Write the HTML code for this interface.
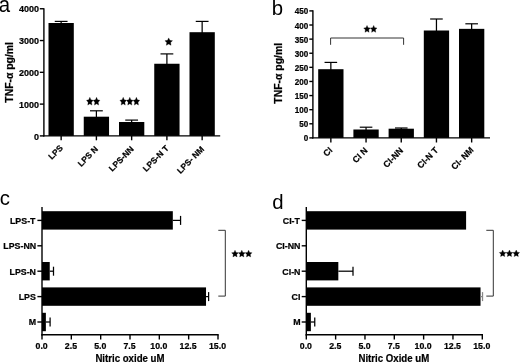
<!DOCTYPE html>
<html><head><meta charset="utf-8"><style>
html,body{margin:0;padding:0;background:#fff;}
body{width:520px;height:363px;overflow:hidden;}
svg{display:block;font-family:"Liberation Sans", sans-serif;filter:blur(0.35px);}
</style></head><body>
<svg width="520" height="363" viewBox="0 0 520 363">
<rect width="520" height="363" fill="#fff"/>
<line x1="43.90" y1="8.15" x2="43.90" y2="136.60" stroke="#000" stroke-width="1.4"/>
<line x1="39.80" y1="135.90" x2="43.90" y2="135.90" stroke="#000" stroke-width="1.4"/>
<text transform="translate(33.95,139.62) scale(1.000,1.080)" font-size="9" font-weight="bold" fill="#000" stroke="#000" stroke-width="0.21">0</text>
<line x1="39.80" y1="104.11" x2="43.90" y2="104.11" stroke="#000" stroke-width="1.4"/>
<text transform="translate(18.95,107.84) scale(1.000,1.080)" font-size="9" font-weight="bold" fill="#000" stroke="#000" stroke-width="0.21">1000</text>
<line x1="39.80" y1="72.33" x2="43.90" y2="72.33" stroke="#000" stroke-width="1.4"/>
<text transform="translate(18.95,76.05) scale(1.000,1.080)" font-size="9" font-weight="bold" fill="#000" stroke="#000" stroke-width="0.21">2000</text>
<line x1="39.80" y1="40.54" x2="43.90" y2="40.54" stroke="#000" stroke-width="1.4"/>
<text transform="translate(18.95,44.26) scale(1.000,1.080)" font-size="9" font-weight="bold" fill="#000" stroke="#000" stroke-width="0.21">3000</text>
<line x1="39.80" y1="8.75" x2="43.90" y2="8.75" stroke="#000" stroke-width="1.4"/>
<text transform="translate(18.95,12.47) scale(1.000,1.080)" font-size="9" font-weight="bold" fill="#000" stroke="#000" stroke-width="0.21">4000</text>
<line x1="43.20" y1="135.90" x2="220.20" y2="135.90" stroke="#000" stroke-width="1.4"/>
<rect x="48.50" y="23.00" width="25.30" height="112.90" fill="#000"/>
<line x1="61.15" y1="21.40" x2="61.15" y2="24.00" stroke="#000" stroke-width="1.25"/>
<line x1="54.75" y1="21.40" x2="67.55" y2="21.40" stroke="#000" stroke-width="1.2"/>
<line x1="61.15" y1="135.90" x2="61.15" y2="140.30" stroke="#000" stroke-width="1.4"/>
<rect x="83.75" y="116.70" width="25.30" height="19.20" fill="#000"/>
<line x1="96.40" y1="110.80" x2="96.40" y2="117.70" stroke="#000" stroke-width="1.25"/>
<line x1="90.00" y1="110.80" x2="102.80" y2="110.80" stroke="#000" stroke-width="1.2"/>
<line x1="96.40" y1="135.90" x2="96.40" y2="140.30" stroke="#000" stroke-width="1.4"/>
<rect x="119.00" y="122.00" width="25.30" height="13.90" fill="#000"/>
<line x1="131.65" y1="120.10" x2="131.65" y2="123.00" stroke="#000" stroke-width="1.25"/>
<line x1="125.25" y1="120.10" x2="138.05" y2="120.10" stroke="#000" stroke-width="1.2"/>
<line x1="131.65" y1="135.90" x2="131.65" y2="140.30" stroke="#000" stroke-width="1.4"/>
<rect x="154.25" y="63.75" width="25.30" height="72.15" fill="#000"/>
<line x1="166.90" y1="53.90" x2="166.90" y2="64.75" stroke="#000" stroke-width="1.25"/>
<line x1="160.50" y1="53.90" x2="173.30" y2="53.90" stroke="#000" stroke-width="1.2"/>
<line x1="166.90" y1="135.90" x2="166.90" y2="140.30" stroke="#000" stroke-width="1.4"/>
<rect x="189.50" y="32.20" width="25.30" height="103.70" fill="#000"/>
<line x1="202.15" y1="21.40" x2="202.15" y2="33.20" stroke="#000" stroke-width="1.25"/>
<line x1="195.75" y1="21.40" x2="208.55" y2="21.40" stroke="#000" stroke-width="1.2"/>
<line x1="202.15" y1="135.90" x2="202.15" y2="140.30" stroke="#000" stroke-width="1.4"/>
<text transform="translate(51.85,160.04) scale(0.930,0.940) rotate(-45)" font-size="9" font-weight="bold" fill="#000" stroke="#000" stroke-width="0.24">LPS</text>
<text transform="translate(81.21,167.21) scale(0.930,0.940) rotate(-45)" font-size="9" font-weight="bold" fill="#000" stroke="#000" stroke-width="0.24">LPS N</text>
<text transform="translate(112.35,171.91) scale(0.930,0.940) rotate(-45)" font-size="9" font-weight="bold" fill="#000" stroke="#000" stroke-width="0.24">LPS-NN</text>
<text transform="translate(146.33,172.17) scale(0.930,0.940) rotate(-45)" font-size="9" font-weight="bold" fill="#000" stroke="#000" stroke-width="0.24">LPS-N T</text>
<text transform="translate(180.42,174.24) scale(0.930,0.940) rotate(-45)" font-size="9" font-weight="bold" fill="#000" stroke="#000" stroke-width="0.24">LPS- NM</text>
<text transform="translate(13.35,102.68) scale(1.030,1.040) rotate(-90)" font-size="10" font-weight="bold" fill="#000" stroke="#000" stroke-width="0.21">TNF-α pg/ml</text>
<text transform="translate(-1.37,11.84) scale(0.980,1.020)" font-size="20.8" font-weight="normal" fill="#000">a</text>
<polygon points="89.85,97.30 90.89,99.87 93.20,100.28 91.53,102.28 91.92,105.10 89.85,103.77 87.78,105.10 88.17,102.28 86.50,100.28 88.81,99.87" fill="#000" stroke="#000" stroke-width="0.3" stroke-linejoin="round"/>
<polygon points="96.55,97.30 97.59,99.87 99.90,100.28 98.23,102.28 98.62,105.10 96.55,103.77 94.48,105.10 94.87,102.28 93.20,100.28 95.51,99.87" fill="#000" stroke="#000" stroke-width="0.3" stroke-linejoin="round"/>
<polygon points="123.20,97.30 124.22,99.87 126.50,100.28 124.85,102.28 125.24,105.10 123.20,103.77 121.16,105.10 121.55,102.28 119.90,100.28 122.18,99.87" fill="#000" stroke="#000" stroke-width="0.3" stroke-linejoin="round"/>
<polygon points="129.80,97.30 130.82,99.87 133.10,100.28 131.45,102.28 131.84,105.10 129.80,103.77 127.76,105.10 128.15,102.28 126.50,100.28 128.78,99.87" fill="#000" stroke="#000" stroke-width="0.3" stroke-linejoin="round"/>
<polygon points="136.40,97.30 137.42,99.87 139.70,100.28 138.05,102.28 138.44,105.10 136.40,103.77 134.36,105.10 134.75,102.28 133.10,100.28 135.38,99.87" fill="#000" stroke="#000" stroke-width="0.3" stroke-linejoin="round"/>
<polygon points="168.70,37.90 169.87,40.34 172.50,40.73 170.60,42.62 171.05,45.30 168.70,44.04 166.35,45.30 166.80,42.62 164.90,40.73 167.53,40.34" fill="#000" stroke="#000" stroke-width="0.3" stroke-linejoin="round"/>
<line x1="312.90" y1="10.30" x2="312.90" y2="138.60" stroke="#000" stroke-width="1.4"/>
<line x1="309.30" y1="137.90" x2="312.90" y2="137.90" stroke="#000" stroke-width="1.4"/>
<text transform="translate(303.73,141.44) scale(0.900,1.100)" font-size="9" font-weight="bold" fill="#000" stroke="#000" stroke-width="0.22">0</text>
<line x1="309.30" y1="123.79" x2="312.90" y2="123.79" stroke="#000" stroke-width="1.4"/>
<text transform="translate(299.23,127.33) scale(0.900,1.100)" font-size="9" font-weight="bold" fill="#000" stroke="#000" stroke-width="0.22">50</text>
<line x1="309.30" y1="109.68" x2="312.90" y2="109.68" stroke="#000" stroke-width="1.4"/>
<text transform="translate(294.73,113.22) scale(0.900,1.100)" font-size="9" font-weight="bold" fill="#000" stroke="#000" stroke-width="0.22">100</text>
<line x1="309.30" y1="95.57" x2="312.90" y2="95.57" stroke="#000" stroke-width="1.4"/>
<text transform="translate(294.73,99.10) scale(0.900,1.100)" font-size="9" font-weight="bold" fill="#000" stroke="#000" stroke-width="0.22">150</text>
<line x1="309.30" y1="81.46" x2="312.90" y2="81.46" stroke="#000" stroke-width="1.4"/>
<text transform="translate(294.73,84.99) scale(0.900,1.100)" font-size="9" font-weight="bold" fill="#000" stroke="#000" stroke-width="0.22">200</text>
<line x1="309.30" y1="67.34" x2="312.90" y2="67.34" stroke="#000" stroke-width="1.4"/>
<text transform="translate(294.73,70.88) scale(0.900,1.100)" font-size="9" font-weight="bold" fill="#000" stroke="#000" stroke-width="0.22">250</text>
<line x1="309.30" y1="53.23" x2="312.90" y2="53.23" stroke="#000" stroke-width="1.4"/>
<text transform="translate(294.73,56.77) scale(0.900,1.100)" font-size="9" font-weight="bold" fill="#000" stroke="#000" stroke-width="0.22">300</text>
<line x1="309.30" y1="39.12" x2="312.90" y2="39.12" stroke="#000" stroke-width="1.4"/>
<text transform="translate(294.73,42.66) scale(0.900,1.100)" font-size="9" font-weight="bold" fill="#000" stroke="#000" stroke-width="0.22">350</text>
<line x1="309.30" y1="25.01" x2="312.90" y2="25.01" stroke="#000" stroke-width="1.4"/>
<text transform="translate(294.73,28.55) scale(0.900,1.100)" font-size="9" font-weight="bold" fill="#000" stroke="#000" stroke-width="0.22">400</text>
<line x1="309.30" y1="10.90" x2="312.90" y2="10.90" stroke="#000" stroke-width="1.4"/>
<text transform="translate(294.73,14.44) scale(0.900,1.100)" font-size="9" font-weight="bold" fill="#000" stroke="#000" stroke-width="0.22">450</text>
<line x1="312.20" y1="137.90" x2="490.00" y2="137.90" stroke="#000" stroke-width="1.4"/>
<rect x="318.20" y="69.20" width="25.30" height="68.70" fill="#000"/>
<line x1="330.85" y1="62.40" x2="330.85" y2="70.20" stroke="#000" stroke-width="1.25"/>
<line x1="324.55" y1="62.40" x2="337.15" y2="62.40" stroke="#000" stroke-width="1.2"/>
<line x1="330.85" y1="137.90" x2="330.85" y2="142.50" stroke="#000" stroke-width="1.4"/>
<rect x="353.40" y="129.50" width="25.30" height="8.40" fill="#000"/>
<line x1="366.05" y1="127.20" x2="366.05" y2="130.50" stroke="#000" stroke-width="1.25"/>
<line x1="359.75" y1="127.20" x2="372.35" y2="127.20" stroke="#000" stroke-width="1.2"/>
<line x1="366.05" y1="137.90" x2="366.05" y2="142.50" stroke="#000" stroke-width="1.4"/>
<rect x="388.60" y="128.70" width="25.30" height="9.20" fill="#000"/>
<line x1="401.25" y1="128.00" x2="401.25" y2="129.70" stroke="#000" stroke-width="1.25"/>
<line x1="394.95" y1="128.00" x2="407.55" y2="128.00" stroke="#000" stroke-width="1.2"/>
<line x1="401.25" y1="137.90" x2="401.25" y2="142.50" stroke="#000" stroke-width="1.4"/>
<rect x="423.80" y="30.50" width="25.30" height="107.40" fill="#000"/>
<line x1="436.45" y1="19.00" x2="436.45" y2="31.50" stroke="#000" stroke-width="1.25"/>
<line x1="430.15" y1="19.00" x2="442.75" y2="19.00" stroke="#000" stroke-width="1.2"/>
<line x1="436.45" y1="137.90" x2="436.45" y2="142.50" stroke="#000" stroke-width="1.4"/>
<rect x="459.00" y="28.85" width="25.30" height="109.05" fill="#000"/>
<line x1="471.65" y1="23.80" x2="471.65" y2="29.85" stroke="#000" stroke-width="1.25"/>
<line x1="465.35" y1="23.80" x2="477.95" y2="23.80" stroke="#000" stroke-width="1.2"/>
<line x1="471.65" y1="137.90" x2="471.65" y2="142.50" stroke="#000" stroke-width="1.4"/>
<text transform="translate(326.76,157.03) scale(0.960,0.976) rotate(-45)" font-size="9" font-weight="bold" fill="#000" stroke="#000" stroke-width="0.23">CI</text>
<text transform="translate(356.06,163.48) scale(0.960,0.976) rotate(-45)" font-size="9" font-weight="bold" fill="#000" stroke="#000" stroke-width="0.23">CI N</text>
<text transform="translate(386.78,168.17) scale(0.960,0.976) rotate(-45)" font-size="9" font-weight="bold" fill="#000" stroke="#000" stroke-width="0.23">CI-NN</text>
<text transform="translate(420.81,169.01) scale(0.960,0.976) rotate(-45)" font-size="9" font-weight="bold" fill="#000" stroke="#000" stroke-width="0.23">CI-N T</text>
<text transform="translate(454.81,170.29) scale(0.960,0.976) rotate(-45)" font-size="9" font-weight="bold" fill="#000" stroke="#000" stroke-width="0.23">CI- NM</text>
<text transform="translate(282.32,103.63) scale(1.030,1.040) rotate(-90)" font-size="10" font-weight="bold" fill="#000" stroke="#000" stroke-width="0.21">TNF-α pg/ml</text>
<text transform="translate(271.67,14.66) scale(0.980,0.980)" font-size="20.8" font-weight="normal" fill="#000">b</text>
<polyline points="330.60,44.80 330.60,38.00 403.60,38.00 403.60,44.80" fill="none" stroke="#333" stroke-width="1.0"/>
<polygon points="367.02,25.40 368.05,27.67 370.35,28.04 368.69,29.80 369.08,32.30 367.02,31.12 364.97,32.30 365.36,29.80 363.70,28.04 366.00,27.67" fill="#000" stroke="#000" stroke-width="0.3" stroke-linejoin="round"/>
<polygon points="373.68,25.40 374.70,27.67 377.00,28.04 375.34,29.80 375.73,32.30 373.68,31.12 371.62,32.30 372.01,29.80 370.35,28.04 372.65,27.67" fill="#000" stroke="#000" stroke-width="0.3" stroke-linejoin="round"/>
<line x1="42.00" y1="207.00" x2="42.00" y2="335.50" stroke="#000" stroke-width="1.4"/>
<line x1="37.40" y1="220.40" x2="42.00" y2="220.40" stroke="#000" stroke-width="1.4"/>
<text transform="translate(9.97,223.76) scale(0.920,1.010)" font-size="9.6" font-weight="bold" fill="#000" stroke="#000" stroke-width="0.23">LPS-T</text>
<rect x="42.00" y="211.20" width="130.82" height="18.40" fill="#000"/>
<line x1="172.82" y1="220.40" x2="180.57" y2="220.40" stroke="#000" stroke-width="1.25"/>
<line x1="180.57" y1="215.90" x2="180.57" y2="224.90" stroke="#000" stroke-width="1.25"/>
<line x1="37.40" y1="245.80" x2="42.00" y2="245.80" stroke="#000" stroke-width="1.4"/>
<text transform="translate(3.30,249.16) scale(0.920,1.010)" font-size="9.6" font-weight="bold" fill="#000" stroke="#000" stroke-width="0.23">LPS-NN</text>
<line x1="37.40" y1="271.20" x2="42.00" y2="271.20" stroke="#000" stroke-width="1.4"/>
<text transform="translate(9.51,274.56) scale(0.920,1.010)" font-size="9.6" font-weight="bold" fill="#000" stroke="#000" stroke-width="0.23">LPS-N</text>
<rect x="42.00" y="262.00" width="7.74" height="18.40" fill="#000"/>
<line x1="49.74" y1="271.20" x2="53.50" y2="271.20" stroke="#000" stroke-width="1.25"/>
<line x1="53.50" y1="266.70" x2="53.50" y2="275.70" stroke="#000" stroke-width="1.25"/>
<line x1="37.40" y1="296.60" x2="42.00" y2="296.60" stroke="#000" stroke-width="1.4"/>
<text transform="translate(18.71,299.96) scale(0.920,1.010)" font-size="9.6" font-weight="bold" fill="#000" stroke="#000" stroke-width="0.23">LPS</text>
<rect x="42.00" y="287.40" width="164.03" height="18.40" fill="#000"/>
<line x1="206.03" y1="296.60" x2="208.61" y2="296.60" stroke="#000" stroke-width="1.25"/>
<line x1="208.61" y1="292.10" x2="208.61" y2="301.10" stroke="#000" stroke-width="1.25"/>
<line x1="37.40" y1="322.00" x2="42.00" y2="322.00" stroke="#000" stroke-width="1.4"/>
<text transform="translate(28.83,325.36) scale(0.920,1.010)" font-size="9.6" font-weight="bold" fill="#000" stroke="#000" stroke-width="0.23">M</text>
<rect x="42.00" y="312.80" width="3.87" height="18.40" fill="#000"/>
<line x1="45.87" y1="322.00" x2="50.10" y2="322.00" stroke="#000" stroke-width="1.25"/>
<line x1="50.10" y1="317.50" x2="50.10" y2="326.50" stroke="#000" stroke-width="1.25"/>
<line x1="41.30" y1="334.80" x2="218.69" y2="334.80" stroke="#000" stroke-width="1.4"/>
<line x1="42.00" y1="334.80" x2="42.00" y2="339.50" stroke="#000" stroke-width="1.4"/>
<text transform="translate(35.51,348.73) scale(0.975,1.050)" font-size="9" font-weight="bold" fill="#000" stroke="#000" stroke-width="0.22">0.0</text>
<line x1="71.33" y1="334.80" x2="71.33" y2="339.50" stroke="#000" stroke-width="1.4"/>
<text transform="translate(64.84,348.73) scale(0.975,1.050)" font-size="9" font-weight="bold" fill="#000" stroke="#000" stroke-width="0.22">2.5</text>
<line x1="100.67" y1="334.80" x2="100.67" y2="339.50" stroke="#000" stroke-width="1.4"/>
<text transform="translate(94.17,348.73) scale(0.975,1.050)" font-size="9" font-weight="bold" fill="#000" stroke="#000" stroke-width="0.22">5.0</text>
<line x1="130.00" y1="334.80" x2="130.00" y2="339.50" stroke="#000" stroke-width="1.4"/>
<text transform="translate(123.38,348.73) scale(0.975,1.050)" font-size="9" font-weight="bold" fill="#000" stroke="#000" stroke-width="0.22">7.5</text>
<line x1="159.33" y1="334.80" x2="159.33" y2="339.50" stroke="#000" stroke-width="1.4"/>
<text transform="translate(150.28,348.73) scale(0.975,1.050)" font-size="9" font-weight="bold" fill="#000" stroke="#000" stroke-width="0.22">10.0</text>
<line x1="188.66" y1="334.80" x2="188.66" y2="339.50" stroke="#000" stroke-width="1.4"/>
<text transform="translate(179.61,348.73) scale(0.975,1.050)" font-size="9" font-weight="bold" fill="#000" stroke="#000" stroke-width="0.22">12.5</text>
<line x1="218.00" y1="334.80" x2="218.00" y2="339.50" stroke="#000" stroke-width="1.4"/>
<text transform="translate(208.94,348.73) scale(0.975,1.050)" font-size="9" font-weight="bold" fill="#000" stroke="#000" stroke-width="0.22">15.0</text>
<text transform="translate(95.38,362.06) scale(0.920,0.975)" font-size="10.5" font-weight="bold" fill="#000" stroke="#000" stroke-width="0.23">Nitric oxide uM</text>
<text transform="translate(-0.32,205.44) scale(0.980,0.980)" font-size="20.8" font-weight="normal" fill="#000">c</text>
<polyline points="218.30,230.30 225.30,230.30 225.30,296.10 218.30,296.10" fill="none" stroke="#333" stroke-width="1.0"/>
<polygon points="235.00,250.20 236.05,252.41 238.40,252.76 236.70,254.48 237.10,256.90 235.00,255.76 232.90,256.90 233.30,254.48 231.60,252.76 233.95,252.41" fill="#000" stroke="#000" stroke-width="0.3" stroke-linejoin="round"/>
<polygon points="241.80,250.20 242.85,252.41 245.20,252.76 243.50,254.48 243.90,256.90 241.80,255.76 239.70,256.90 240.10,254.48 238.40,252.76 240.75,252.41" fill="#000" stroke="#000" stroke-width="0.3" stroke-linejoin="round"/>
<polygon points="248.60,250.20 249.65,252.41 252.00,252.76 250.30,254.48 250.70,256.90 248.60,255.76 246.50,256.90 246.90,254.48 245.20,252.76 247.55,252.41" fill="#000" stroke="#000" stroke-width="0.3" stroke-linejoin="round"/>
<line x1="306.30" y1="207.00" x2="306.30" y2="335.50" stroke="#000" stroke-width="1.4"/>
<line x1="301.70" y1="220.40" x2="306.30" y2="220.40" stroke="#000" stroke-width="1.4"/>
<text transform="translate(282.78,223.76) scale(0.920,1.010)" font-size="9.6" font-weight="bold" fill="#000" stroke="#000" stroke-width="0.23">CI-T</text>
<rect x="306.30" y="211.20" width="159.80" height="18.40" fill="#000"/>
<line x1="301.70" y1="245.80" x2="306.30" y2="245.80" stroke="#000" stroke-width="1.4"/>
<text transform="translate(275.88,249.16) scale(0.920,1.010)" font-size="9.6" font-weight="bold" fill="#000" stroke="#000" stroke-width="0.23">CI-NN</text>
<line x1="301.70" y1="271.20" x2="306.30" y2="271.20" stroke="#000" stroke-width="1.4"/>
<text transform="translate(282.32,274.56) scale(0.920,1.010)" font-size="9.6" font-weight="bold" fill="#000" stroke="#000" stroke-width="0.23">CI-N</text>
<rect x="306.30" y="262.00" width="32.03" height="18.40" fill="#000"/>
<line x1="338.33" y1="271.20" x2="353.00" y2="271.20" stroke="#000" stroke-width="1.25"/>
<line x1="353.00" y1="266.70" x2="353.00" y2="275.70" stroke="#000" stroke-width="1.25"/>
<line x1="301.70" y1="296.60" x2="306.30" y2="296.60" stroke="#000" stroke-width="1.4"/>
<text transform="translate(291.52,299.96) scale(0.920,1.010)" font-size="9.6" font-weight="bold" fill="#000" stroke="#000" stroke-width="0.23">CI</text>
<rect x="306.30" y="287.40" width="174.24" height="18.40" fill="#000"/>
<line x1="480.54" y1="296.60" x2="482.53" y2="296.60" stroke="#888" stroke-width="1.25"/>
<line x1="482.53" y1="292.10" x2="482.53" y2="301.10" stroke="#888" stroke-width="1.25"/>
<line x1="301.70" y1="322.00" x2="306.30" y2="322.00" stroke="#000" stroke-width="1.4"/>
<text transform="translate(293.13,325.36) scale(0.920,1.010)" font-size="9.6" font-weight="bold" fill="#000" stroke="#000" stroke-width="0.23">M</text>
<rect x="306.30" y="312.80" width="4.58" height="18.40" fill="#000"/>
<line x1="310.88" y1="322.00" x2="314.75" y2="322.00" stroke="#000" stroke-width="1.25"/>
<line x1="314.75" y1="317.50" x2="314.75" y2="326.50" stroke="#000" stroke-width="1.25"/>
<line x1="305.60" y1="334.80" x2="483.00" y2="334.80" stroke="#000" stroke-width="1.4"/>
<line x1="306.30" y1="334.80" x2="306.30" y2="339.50" stroke="#000" stroke-width="1.4"/>
<text transform="translate(299.81,348.73) scale(0.975,1.050)" font-size="9" font-weight="bold" fill="#000" stroke="#000" stroke-width="0.22">0.0</text>
<line x1="335.63" y1="334.80" x2="335.63" y2="339.50" stroke="#000" stroke-width="1.4"/>
<text transform="translate(329.14,348.73) scale(0.975,1.050)" font-size="9" font-weight="bold" fill="#000" stroke="#000" stroke-width="0.22">2.5</text>
<line x1="364.97" y1="334.80" x2="364.97" y2="339.50" stroke="#000" stroke-width="1.4"/>
<text transform="translate(358.47,348.73) scale(0.975,1.050)" font-size="9" font-weight="bold" fill="#000" stroke="#000" stroke-width="0.22">5.0</text>
<line x1="394.30" y1="334.80" x2="394.30" y2="339.50" stroke="#000" stroke-width="1.4"/>
<text transform="translate(387.68,348.73) scale(0.975,1.050)" font-size="9" font-weight="bold" fill="#000" stroke="#000" stroke-width="0.22">7.5</text>
<line x1="423.63" y1="334.80" x2="423.63" y2="339.50" stroke="#000" stroke-width="1.4"/>
<text transform="translate(414.58,348.73) scale(0.975,1.050)" font-size="9" font-weight="bold" fill="#000" stroke="#000" stroke-width="0.22">10.0</text>
<line x1="452.96" y1="334.80" x2="452.96" y2="339.50" stroke="#000" stroke-width="1.4"/>
<text transform="translate(443.91,348.73) scale(0.975,1.050)" font-size="9" font-weight="bold" fill="#000" stroke="#000" stroke-width="0.22">12.5</text>
<line x1="482.30" y1="334.80" x2="482.30" y2="339.50" stroke="#000" stroke-width="1.4"/>
<text transform="translate(473.24,348.73) scale(0.975,1.050)" font-size="9" font-weight="bold" fill="#000" stroke="#000" stroke-width="0.22">15.0</text>
<text transform="translate(358.43,361.96) scale(0.920,0.975)" font-size="10.5" font-weight="bold" fill="#000" stroke="#000" stroke-width="0.23">Nitric Oxide uM</text>
<text transform="translate(272.24,208.68) scale(0.980,0.980)" font-size="20.8" font-weight="normal" fill="#000">d</text>
<polyline points="486.30,230.30 493.30,230.30 493.30,296.10 486.30,296.10" fill="none" stroke="#333" stroke-width="1.0"/>
<polygon points="502.68,250.00 503.73,252.17 506.07,252.52 504.38,254.21 504.77,256.60 502.68,255.47 500.59,256.60 500.99,254.21 499.30,252.52 501.64,252.17" fill="#000" stroke="#000" stroke-width="0.3" stroke-linejoin="round"/>
<polygon points="509.45,250.00 510.50,252.17 512.83,252.52 511.14,254.21 511.54,256.60 509.45,255.47 507.36,256.60 507.76,254.21 506.07,252.52 508.40,252.17" fill="#000" stroke="#000" stroke-width="0.3" stroke-linejoin="round"/>
<polygon points="516.22,250.00 517.26,252.17 519.60,252.52 517.91,254.21 518.31,256.60 516.22,255.47 514.13,256.60 514.52,254.21 512.83,252.52 515.17,252.17" fill="#000" stroke="#000" stroke-width="0.3" stroke-linejoin="round"/>
</svg>
</body></html>
